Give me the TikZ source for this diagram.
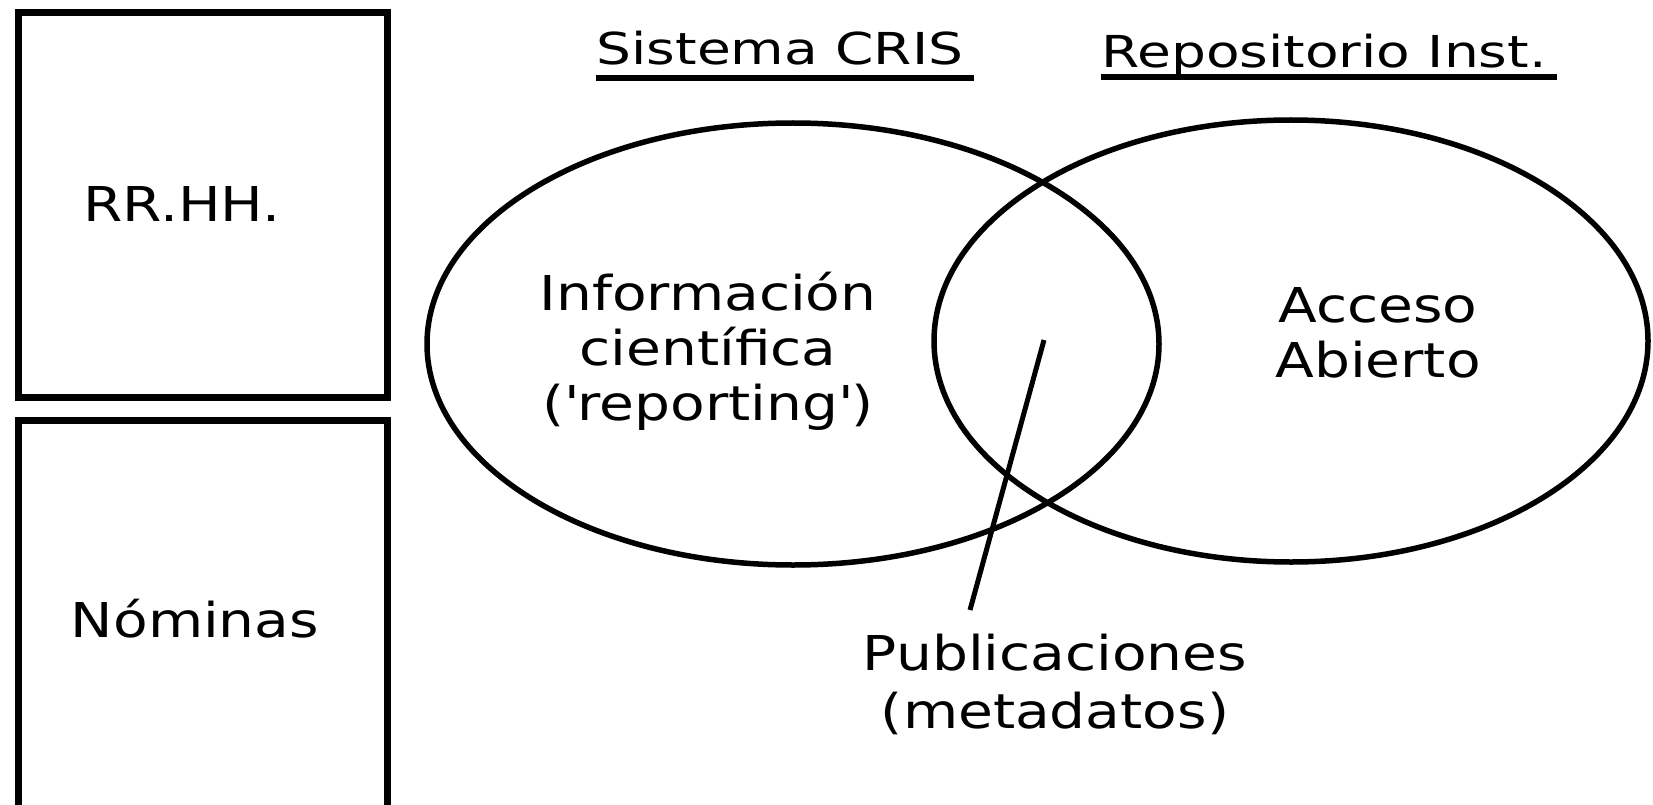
\documentclass[tikz,border=0pt]{standalone}
\usepackage{fontspec}
\setmainfont{DejaVu Sans}[FakeStretch=1.18]
\newfontfamily\headfont{DejaVu Sans}[FakeStretch=1.25]
\usepackage{tikz}
\usetikzlibrary{shapes.geometric}

\begin{document}
\begin{tikzpicture}[x=1pt,y=-1pt,
    box/.style={draw,line width=7pt,minimum width=369pt,minimum height=384pt,inner sep=0pt},
    set/.style={draw,ellipse,line width=5.5pt,inner sep=0pt},
    lbl/.style={font=\fontsize{48}{55}\selectfont,align=center,inner sep=0pt},
    head/.style={font=\headfont\fontsize{44}{50}\selectfont,inner sep=0pt,anchor=base},
    uline/.style={line width=6pt}]
        \useasboundingbox (0,0) rectangle (1653,805);
        \clip (0,0) rectangle (1653,805);
        % left column
        \node[box] (rrhh) at (202.5,205) {};
        \node[lbl,anchor=base] (rrhhtxt) at (182,222) {RR.HH.};
        \node[box,minimum height=410pt] (nom) at (202.5,625) {};
        \node[lbl,anchor=base] (nomtxt) at (195,637) {Nóminas};
        % the two sets
        \node[set,minimum width=732pt,minimum height=442pt] (cris) at (793,344) {};
        \node[set,minimum width=714pt,minimum height=442pt] (repo) at (1291,341) {};
        \node[head] (sis) at (780,65) {Sistema CRIS};
        \node[head] (rep) at (1324,68) {Repositorio Inst.};
        \draw[uline] ([yshift=-13pt]sis.base west) -- ([xshift=10pt,yshift=-13pt]sis.base east);
        \draw[uline] ([yshift=-9pt]rep.base west) -- ([xshift=10pt,yshift=-9pt]rep.base east);
        \node[lbl] (info) at (708,351) {Información\\científica\\(\textquotesingle reporting\textquotesingle)};
        \node[lbl] (oa) at (1378,333) {Acceso\\Abierto};
        % overlap
        \node[lbl,font=\fontsize{48}{58}\selectfont] (pub) at (1055,684) {Publicaciones\\(metadatos)};
        \coordinate (tip) at (1044,340);
        \coordinate (foot) at (970,610);
        \draw[line width=5pt] (tip) -- (foot);
\end{tikzpicture}
\end{document}
